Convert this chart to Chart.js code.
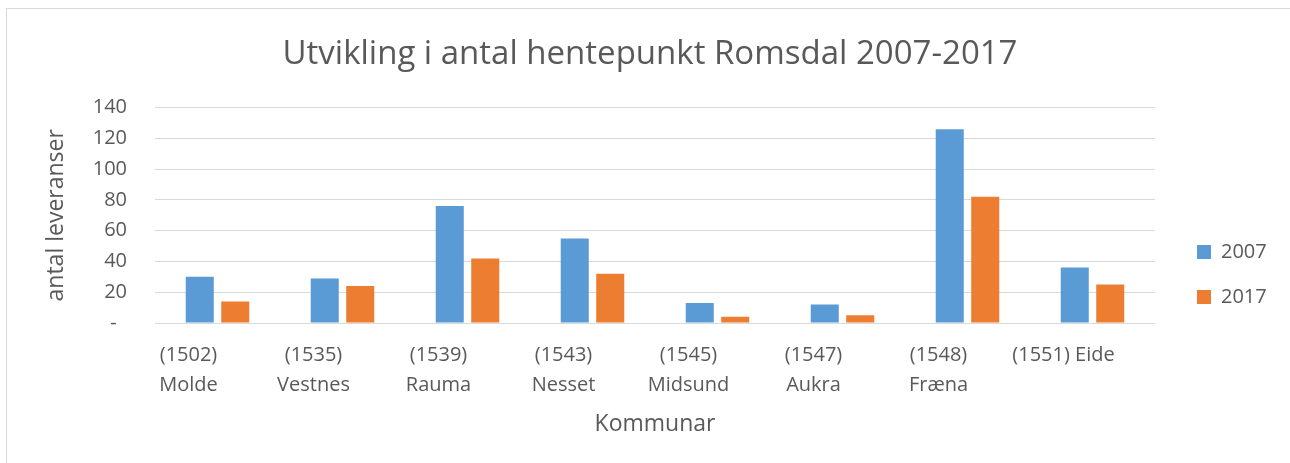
<!DOCTYPE html>
<html>
<head>
<meta charset="utf-8">
<script src="https://cdn.jsdelivr.net/npm/chart.js@4/dist/chart.umd.min.js"></script>
<style>
  body { margin: 0; background: #fff; }
  #wrap { position: relative; width: 1290px; height: 463px; overflow: hidden; }
  #frame { position: absolute; left: 6px; top: 8px; width: 1400px; height: 600px; border: 1px solid #d9d9d9; pointer-events: none; }
  canvas { position: absolute; left: 0; top: 0; }
</style>
</head>
<body>
<div id="wrap">
  <div id="frame"></div>
  <canvas id="myChart" width="1290" height="463"></canvas>
</div>
<script>
// kommunar (two-line labels) and the two years
var kommunar = [
    ['(1502)', 'Molde'],
    ['(1535)', 'Vestnes'],
    ['(1539)', 'Rauma'],
    ['(1543)', 'Nesset'],
    ['(1545)', 'Midsund'],
    ['(1547)', 'Aukra'],
    ['(1548)', 'Fræna'],
    '(1551) Eide'
];
var years = ['2007', '2017'];
var values2007 = [30, 29, 76, 55, 13, 12, 126, 36];
var values2017 = [14, 24, 42, 32, 4, 5, 82, 25];
var yTicks = [0, 20, 40, 60, 80, 100, 120, 140];

Chart.defaults.font.family = "'Open Sans', sans-serif";
Chart.defaults.color = '#595959';

// move legend away from the plot and centre the title over the plot, like excel
var excelPlacing = {
    id: 'excelPlacing',
    afterLayout: function (chart) {
        var lg = chart.legend;
        var dx = 1172 - lg.left;
        var dy = 217 - lg.top;
        lg.left += dx; lg.right += dx;
        lg.top += dy; lg.bottom += dy;
        var tb = chart.titleBlock;
        tb.left += 25; tb.right += 25;
    }
};

let ctx = document.getElementById('myChart').getContext('2d');

let hentChart = new Chart(ctx, {
    type: 'bar',
    data: {
        labels: kommunar,
        datasets: [
            {
                label: years[0],
                data: values2007,
                backgroundColor: '#5b9bd5',
                borderWidth: 0
            },
            {
                label: years[1],
                data: values2017,
                backgroundColor: '#ed7d31',
                borderWidth: 0
            }
        ]
    },
    options: {
        responsive: false,
        animation: false,
        datasets: {
            bar: { categoryPercentage: 0.568, barPercentage: 0.79 }
        },
        layout: { padding: { left: 0, right: 40, top: 0, bottom: 25 } },
        plugins: {
            title: {
                display: true,
                text: 'Utvikling i antal hentepunkt Romsdal 2007-2017',
                font: { size: 33, weight: 'normal' },
                color: '#595959',
                padding: { top: 35, bottom: 33 }
            },
            legend: {
                position: 'right',
                align: 'start',
                maxWidth: 95,
                labels: {
                    boxWidth: 14,
                    boxHeight: 14,
                    padding: 25,
                    font: { size: 20 },
                    color: '#595959'
                }
            },
            tooltip: { enabled: false }
        },
        scales: {
            x: {
                grid: { display: false, drawTicks: false },
                border: { display: false },
                ticks: {
                    font: { size: 20, lineHeight: 1.5 },
                    color: '#595959',
                    padding: 17,
                    labelOffset: -29,
                    maxRotation: 0,
                    autoSkip: false
                },
                title: {
                    display: true,
                    text: 'Kommunar',
                    font: { size: 23 },
                    color: '#595959',
                    padding: { top: 10, bottom: 0 }
                },
                afterFit: function (scale) { scale.height = 115; }
            },
            y: {
                min: yTicks[0],
                max: yTicks[yTicks.length - 1],
                grid: { color: '#d9d9d9', lineWidth: 1, drawTicks: false },
                border: { display: false },
                afterBuildTicks: function (scale) {
                    scale.ticks = yTicks.map(function (v) { return { value: v }; });
                },
                ticks: {
                    font: { size: 20 },
                    color: '#595959',
                    padding: 28,
                    callback: function (v) { return v === 0 ? '-  ' : v; }
                },
                title: {
                    display: true,
                    text: 'antal leveranser',
                    font: { size: 23 },
                    color: '#595959',
                    padding: { top: 43, bottom: 0 }
                },
                afterFit: function (scale) { scale.width = 155; }
            }
        }
    },
    plugins: [excelPlacing]
});
</script>
</body>
</html>
